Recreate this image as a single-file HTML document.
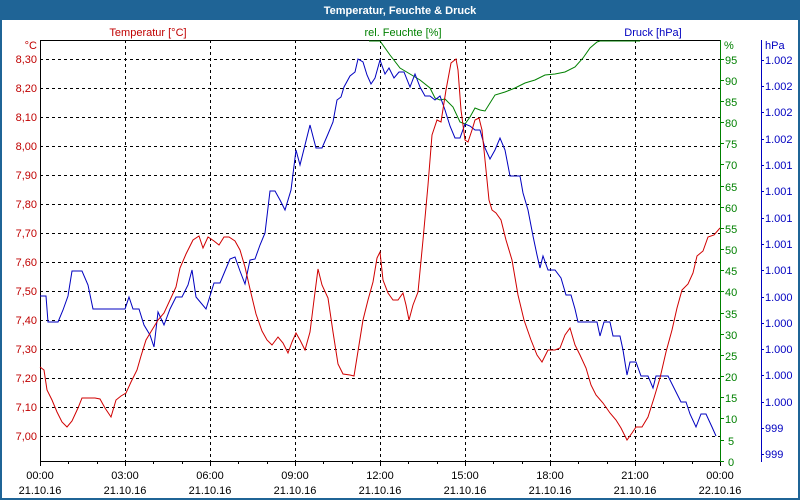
<!DOCTYPE html>
<html><head><meta charset="utf-8"><style>
html,body{margin:0;padding:0;background:#fff}
svg{display:block}
text{font-family:"Liberation Sans","DejaVu Sans",sans-serif;font-size:11px}
</style></head><body>
<svg width="800" height="500" viewBox="0 0 800 500" xmlns="http://www.w3.org/2000/svg">
<rect x="0" y="0" width="800" height="500" fill="#1f6496"/>
<rect x="2" y="20" width="796" height="478" fill="#fff"/>
<text x="400" y="14" fill="#fff" font-weight="bold" text-anchor="middle">Temperatur, Feuchte &amp; Druck</text>
<g stroke="#000" stroke-width="1" stroke-dasharray="3,3" fill="none">
<path d="M125.5 40V461M210.5 40V461M295.5 40V461M380.5 40V461M465.5 40V461M550.5 40V461M635.5 40V461M720.5 40V461"/>
<path d="M40 59.5H720M40 88.5H720M40 117.5H720M40 146.5H720M40 175.5H720M40 204.5H720M40 233.5H720M40 262.5H720M40 291.5H720M40 320.5H720M40 349.5H720M40 378.5H720M40 407.5H720M40 436.5H720"/>
</g>
<path d="M40.5 40V461.5H720M40 40.5H720" stroke="#000" fill="none"/>
<g stroke="#000"><path d="M40.5 461v5M68.5 461v3M97.5 461v3M125.5 461v5M153.5 461v3M182.5 461v3M210.5 461v5M238.5 461v3M267.5 461v3M295.5 461v5M323.5 461v3M352.5 461v3M380.5 461v5M408.5 461v3M437.5 461v3M465.5 461v5M493.5 461v3M522.5 461v3M550.5 461v5M578.5 461v3M607.5 461v3M635.5 461v5M663.5 461v3M692.5 461v3M720.5 461v5"/></g>
<g fill="#000" text-anchor="middle">
<text x="40" y="479">00:00</text><text x="40" y="494">21.10.16</text>
<text x="125" y="479">03:00</text><text x="125" y="494">21.10.16</text>
<text x="210" y="479">06:00</text><text x="210" y="494">21.10.16</text>
<text x="295" y="479">09:00</text><text x="295" y="494">21.10.16</text>
<text x="380" y="479">12:00</text><text x="380" y="494">21.10.16</text>
<text x="465" y="479">15:00</text><text x="465" y="494">21.10.16</text>
<text x="550" y="479">18:00</text><text x="550" y="494">21.10.16</text>
<text x="635" y="479">21:00</text><text x="635" y="494">21.10.16</text>
<text x="720" y="479">00:00</text><text x="720" y="494">22.10.16</text>
</g>
<g fill="#c00000" text-anchor="end">
<text x="37" y="49">°C</text>
<text x="37" y="63">8,30</text><text x="37" y="92">8,20</text><text x="37" y="121">8,10</text><text x="37" y="150">8,00</text>
<text x="37" y="179">7,90</text><text x="37" y="208">7,80</text><text x="37" y="237">7,70</text><text x="37" y="266">7,60</text>
<text x="37" y="295">7,50</text><text x="37" y="324">7,40</text><text x="37" y="353">7,30</text><text x="37" y="382">7,20</text>
<text x="37" y="411">7,10</text><text x="37" y="440">7,00</text>
</g>
<text x="148" y="36" fill="#c00000" text-anchor="middle">Temperatur [°C]</text>
<text x="403" y="36" fill="#008000" text-anchor="middle">rel. Feuchte [%]</text>
<text x="653" y="36" fill="#0000c0" text-anchor="middle">Druck [hPa]</text>
<path d="M720.5 40V462" stroke="#008000"/>
<g stroke="#008000"><path d="M720 59.5h4M720 80.5h4M720 101.5h4M720 122.5h4M720 143.5h4M720 164.5h4M720 186.5h4M720 207.5h4M720 228.5h4M720 249.5h4M720 270.5h4M720 291.5h4M720 313.5h4M720 334.5h4M720 355.5h4M720 376.5h4M720 397.5h4M720 418.5h4M720 440.5h4M720 461.5h4"/></g>
<g fill="#008000">
<text x="724" y="49">%</text>
<text x="725" y="64">95</text><text x="725" y="85">90</text><text x="725" y="106">85</text><text x="725" y="127">80</text>
<text x="725" y="148">75</text><text x="725" y="169">70</text><text x="725" y="191">65</text><text x="725" y="212">60</text>
<text x="725" y="233">55</text><text x="725" y="254">50</text><text x="725" y="275">45</text><text x="725" y="296">40</text>
<text x="725" y="318">35</text><text x="725" y="339">30</text><text x="725" y="360">25</text><text x="725" y="381">20</text>
<text x="725" y="402">15</text><text x="725" y="423">10</text><text x="728" y="445">5</text><text x="728" y="466">0</text>
</g>
<path d="M761.5 40V462" stroke="#0000c0"/>
<g stroke="#0000c0"><path d="M761 60.5h3M761 86.5h3M761 112.5h3M761 139.5h3M761 165.5h3M761 191.5h3M761 218.5h3M761 244.5h3M761 270.5h3M761 297.5h3M761 323.5h3M761 349.5h3M761 375.5h3M761 402.5h3M761 428.5h3M761 454.5h3"/></g>
<g fill="#0000c0">
<text x="765" y="49">hPa</text>
<text x="765" y="64">1.002</text><text x="765" y="90">1.002</text><text x="765" y="116">1.002</text><text x="765" y="143">1.002</text>
<text x="765" y="169">1.001</text><text x="765" y="195">1.001</text><text x="765" y="222">1.001</text><text x="765" y="248">1.001</text>
<text x="765" y="274">1.001</text><text x="765" y="301">1.000</text><text x="765" y="327">1.000</text><text x="765" y="353">1.000</text>
<text x="765" y="379">1.000</text><text x="765" y="406">1.000</text><text x="765" y="432">999</text><text x="765" y="458">999</text>
</g>
<polyline fill="none" stroke="#008000" stroke-width="1" points="369,41 380,41 390,55 400,68 410,74 420,80 430,88 435,98 440,100 445,99 453,107 460,122 465,124 470,117 475,108 480,110 485,111 495,95 505,92 515,88 525,83 535,80 545,75 555,74 565,72 575,67 583,58 590,48 597,42 600,41 640,41"/>
<polyline fill="none" stroke="#0000c0" stroke-width="1" points="40,296 46,296 48,322 58,322 63,310 68,296 72,271 82,271 88,285 93,309 125,309 129,297 133,309 139,309 144,325 150,335 154,347 158,312 164,325 170,309 176,297 182,297 188,285 192,270 196,297 206,309 210,296 214,283 220,283 225,271 230,259 235,257 240,271 245,284 250,260 255,259 260,245 265,233 270,191 275,191 280,200 285,210 291,190 296,150 300,165 305,145 310,125 316,148 322,148 328,134 333,122 337,100 341,97 344,87 350,76 355,72 358,59 363,62 367,75 371,84 375,78 380,60 385,74 389,68 394,78 399,72 404,72 410,87 415,74 420,87 425,96 430,96 435,100 440,96 445,110 450,126 455,138 460,138 465,124 470,126 475,130 480,130 485,148 490,159 495,150 500,138 505,150 510,176 520,176 523,193 528,210 533,236 537,255 540,268 543,256 548,270 555,270 561,278 566,295 571,295 575,309 578,322 597,322 600,336 604,322 610,322 613,336 620,336 623,350 627,375 630,362 636,362 641,376 648,376 653,388 656,376 668,376 674,388 681,402 686,402 690,414 696,427 701,414 706,414 712,427 716,436"/>
<polyline fill="none" stroke="#d00000" stroke-width="1" points="40,367 44,370 47,390 52,400 57,412 62,422 67,427 72,421 78,408 82,398 95,398 100,399 105,408 111,417 116,400 121,396 126,393 131,382 137,370 141,356 146,340 152,330 158,320 164,313 170,300 176,287 180,268 186,254 193,240 199,236 203,248 208,237 214,241 219,245 224,237 229,237 235,241 240,250 245,267 250,289 256,314 262,331 267,340 272,345 278,337 283,343 288,353 292,342 296,333 300,340 305,350 310,332 314,300 318,269 322,285 328,298 333,332 338,364 343,374 350,375 354,376 359,345 363,320 368,300 373,282 377,258 380,252 383,280 388,293 393,300 398,300 403,293 406,305 409,320 413,305 418,292 423,240 428,185 432,135 437,120 441,122 446,90 451,63 456,59 458,70 461,110 465,140 468,142 472,130 475,120 479,118 482,130 486,170 489,200 492,210 496,213 501,220 506,240 512,260 518,295 524,320 531,340 537,355 542,362 548,350 555,350 560,348 565,335 570,328 575,345 580,355 586,368 591,385 596,395 603,403 610,413 616,420 621,428 627,440 632,433 636,427 642,427 648,417 654,398 660,378 666,352 672,330 677,308 682,290 688,284 693,273 697,256 703,251 708,237 714,235 720,228"/>
</svg>
</body></html>
